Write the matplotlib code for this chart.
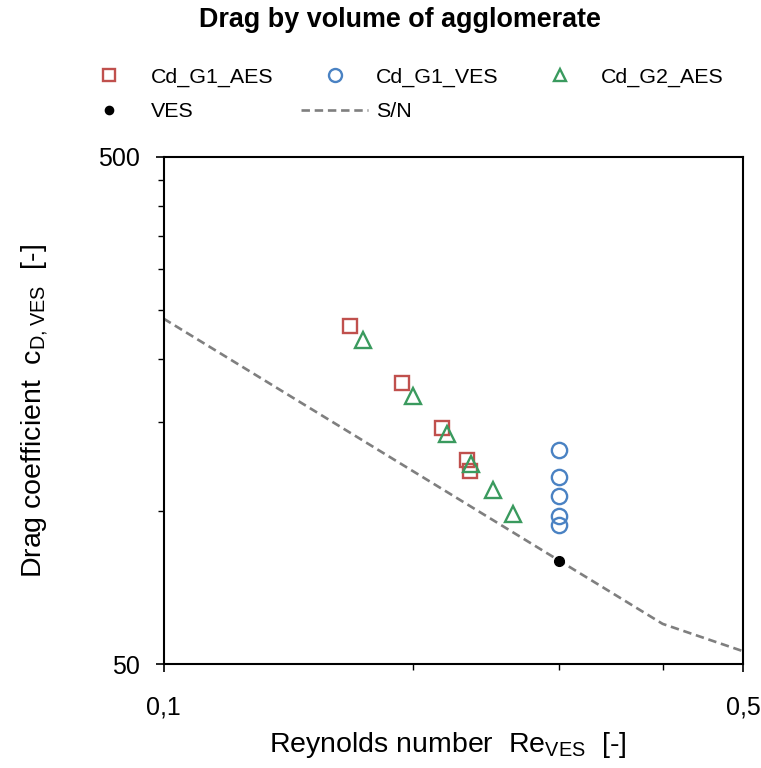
import matplotlib
matplotlib.use("Agg")
import matplotlib.pyplot as plt
from matplotlib.ticker import FixedLocator, NullFormatter, FixedFormatter

plt.rcParams['font.family'] = ['Liberation Sans', 'DejaVu Sans']

# Data
re_g1_aes = [0.168, 0.194, 0.217, 0.232, 0.234]
cd_g1_aes = [232, 179, 146, 126, 120]

re_g1_ves = [0.30, 0.30, 0.30, 0.30, 0.30]
cd_g1_ves = [132, 117, 107, 98, 94]

re_g2_aes = [0.174, 0.200, 0.220, 0.235, 0.250, 0.264]
cd_g2_aes = [218, 169, 142, 124, 110, 99]

re_ves = [0.30]
cd_ves = [80]

re_sn = [0.1, 0.2, 0.3, 0.4, 0.5]
cd_sn = [240, 120, 80, 60, 53]

x_major = [0.1, 0.5]
x_major_labels = ["0,1", "0,5"]
x_minor = [0.2, 0.3, 0.4]
y_major = [50, 500]
y_major_labels = ["50", "500"]
y_minor = [100, 150, 200, 250, 300, 350, 400, 450]

RED = "#C0504D"
BLUE = "#4A82C3"
GREEN = "#3A9A5E"
GRAY = "#7F7F7F"

fig = plt.figure(figsize=(7.61, 7.68), dpi=100)
ax = fig.add_axes([0.2149, 0.1354, 0.7614, 0.6602])

ax.plot(re_sn, cd_sn, linestyle=(0, (3.2, 1.8)), color=GRAY, lw=1.9, label="S/N", zorder=2)
ax.plot(re_g1_aes, cd_g1_aes, linestyle="none", marker="s", ms=10.5, mfc="none",
        mec=RED, mew=1.7, label="Cd_G1_AES", zorder=3)
ax.plot(re_g1_ves, cd_g1_ves, linestyle="none", marker="o", ms=11, mfc="none",
        mec=BLUE, mew=1.7, label="Cd_G1_VES", zorder=3)
ax.plot(re_g2_aes, cd_g2_aes, linestyle="none", marker="^", ms=11, mfc="none",
        mec=GREEN, mew=1.7, label="Cd_G2_AES", zorder=3)
ax.plot(re_ves, cd_ves, linestyle="none", marker="o", ms=7, color="black",
        label="VES", zorder=4)

ax.set_xscale("log")
ax.set_yscale("log")
ax.set_xlim(0.1, 0.5)
ax.set_ylim(50, 500)

ax.xaxis.set_major_locator(FixedLocator(x_major))
ax.xaxis.set_major_formatter(FixedFormatter(x_major_labels))
ax.xaxis.set_minor_locator(FixedLocator(x_minor))
ax.xaxis.set_minor_formatter(NullFormatter())
ax.yaxis.set_major_locator(FixedLocator(y_major))
ax.yaxis.set_major_formatter(FixedFormatter(y_major_labels))
ax.yaxis.set_minor_locator(FixedLocator(y_minor))
ax.yaxis.set_minor_formatter(NullFormatter())

ax.tick_params(which="major", direction="out", length=6, width=1.2, labelsize=18)
ax.tick_params(which="minor", direction="out", length=4, width=1.0)
ax.tick_params(axis="x", which="major", pad=17)
ax.tick_params(axis="y", which="major", pad=11)
for s in ax.spines.values():
    s.set_linewidth(1.5)
    s.set_color("black")

ax.set_xlabel(r"Reynolds number  Re$_{\mathregular{VES}}$  [-]", fontsize=20.5)
ax.xaxis.set_label_coords(0.49, -0.1598)
ax.xaxis.label.set_verticalalignment("center")
ax.set_ylabel(r"Drag coefficient  c$_{\mathregular{D,VES}}$  [-]", fontsize=20.5)
ax.yaxis.set_label_coords(-0.2217, 0.5)
ax.yaxis.label.set_verticalalignment("center")

fig.suptitle("Drag by volume of agglomerate", fontsize=19.4, fontweight="bold",
             x=0.5256, y=0.974, va="center")

handles, labels = ax.get_legend_handles_labels()
order = ["Cd_G1_AES", "VES", "Cd_G1_VES", "S/N", "Cd_G2_AES"]
hmap = dict(zip(labels, handles))
fig.legend([hmap[k] for k in order], order, ncol=3, loc="center",
           bbox_to_anchor=(0.5256, 0.8770), frameon=False, fontsize=15.4,
           handlelength=3.13, handletextpad=0.37, columnspacing=1.3,
           labelspacing=0.73, markerscale=0.85)

fig.savefig("out.png", dpi=100)
